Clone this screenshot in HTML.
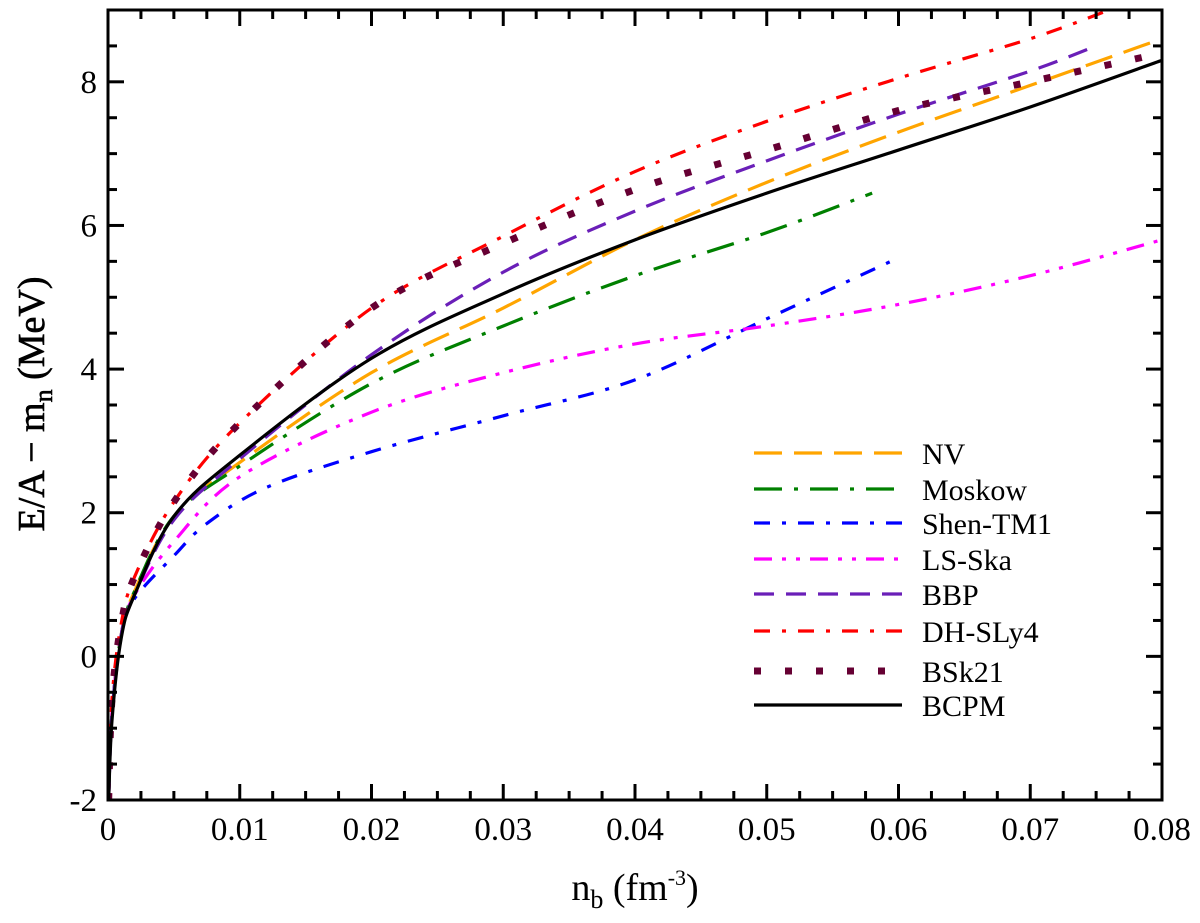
<!DOCTYPE html>
<html><head><meta charset="utf-8"><style>
html,body{margin:0;padding:0;background:#fff;}
svg{display:block;font-family:"Liberation Serif",serif;}
</style></head><body>
<svg id="chart" width="1200" height="923" viewBox="0 0 1200 923" xmlns="http://www.w3.org/2000/svg">
<g id="marks"></g>
<g id="axes"></g>
<g id="legend"></g>
<text x="635" y="900" font-size="38" text-anchor="middle">n<tspan font-size="26" dy="8">b</tspan><tspan dy="-8"> (fm</tspan><tspan font-size="22" dy="-15">-3</tspan><tspan dy="15">)</tspan></text>
<text transform="translate(44,404) rotate(-90)" font-size="38" text-anchor="middle" stroke="#000" stroke-width="0.6">E/A − m<tspan font-size="26" dy="8">n</tspan><tspan dy="-8">  (MeV)</tspan></text>
</svg>
<script>
const xTicks=[0,0.01,0.02,0.03,0.04,0.05,0.06,0.07,0.08];
const xTickLabels=["0","0.01","0.02","0.03","0.04","0.05","0.06","0.07","0.08"];
const yTicks=[-2,0,2,4,6,8];
const yTickLabels=["-2","0","2","4","6","8"];
const seriesNames=["NV","Moskow","Shen-TM1","LS-Ska","BBP","DH-SLy4","BSk21","BCPM"];
const nvX=[0.00005,0.0003,0.001,0.002,0.005,0.01,0.02,0.03,0.04,0.05,0.06,0.07,0.08];
const nvY=[-2,-0.8,0.3,0.9,1.95,2.7,3.95,4.85,5.8,6.6,7.3,7.95,8.6];
const moskowX=[0.00005,0.0003,0.001,0.002,0.005,0.01,0.02,0.03,0.04,0.05,0.058];
const moskowY=[-2,-0.8,0.3,0.9,1.95,2.65,3.8,4.6,5.3,5.9,6.45];
const shenX=[0.00005,0.0003,0.001,0.002,0.005,0.0075,0.012,0.02,0.03,0.04,0.05,0.06];
const shenY=[-2,-0.8,0.3,0.8,1.4,1.85,2.35,2.85,3.35,3.85,4.7,5.55];
const lsX=[0.00005,0.0003,0.001,0.002,0.005,0.01,0.02,0.03,0.04,0.05,0.06,0.07,0.08];
const lsY=[-2,-0.8,0.3,0.85,1.6,2.5,3.4,3.95,4.35,4.6,4.9,5.3,5.8];
const bbpX=[0.00005,0.0003,0.001,0.002,0.005,0.01,0.02,0.03,0.04,0.05,0.06,0.07,0.075];
const bbpY=[-2,-0.8,0.3,0.85,1.9,2.75,4.2,5.35,6.2,6.9,7.55,8.15,8.5];
const slyX=[0.00005,0.0003,0.001,0.002,0.005,0.01,0.02,0.03,0.04,0.05,0.06,0.07,0.076];
const slyY=[-2,-0.6,0.45,1.1,2.15,3.25,4.85,5.85,6.75,7.45,8.05,8.6,9.0];
const bskX=[0.00005,0.0003,0.001,0.002,0.005,0.01,0.02,0.03,0.04,0.05,0.06,0.07,0.08];
const bskY=[-2,-0.6,0.45,1.1,2.15,3.25,4.85,5.75,6.5,7.05,7.6,8.0,8.4];
const bcpmX=[0.00005,0.0003,0.001,0.002,0.005,0.01,0.02,0.03,0.04,0.05,0.06,0.07,0.08];
const bcpmY=[-2,-0.9,0.25,0.85,1.95,2.8,4.15,5.05,5.8,6.45,7.05,7.65,8.3];

const X0=108,X1=1162,Y0=800,Y1=10;
const sx=v=>X0+(v-0)/(0.08)*(X1-X0);
const sy=v=>Y0-(v+2)/11*(Y0-Y1);
const NS="http://www.w3.org/2000/svg";
function mk(tag,attrs,parent){const e=document.createElementNS(NS,tag);for(const k in attrs)e.setAttribute(k,attrs[k]);parent.appendChild(e);return e;}
const marks=document.getElementById('marks'),axes=document.getElementById('axes'),legend=document.getElementById('legend');
const clip=mk('clipPath',{id:'pc'},document.getElementById('chart'));
mk('rect',{x:X0,y:Y1,width:X1-X0,height:Y0-Y1},clip);
marks.setAttribute('clip-path','url(#pc)');

const styles=[
 {c:'#FFA500',d:'28 12',lc:'butt'},
 {c:'#008000',d:'28 12 4 12',lc:'butt'},
 {c:'#0000FF',d:'16 12 4 12',lc:'butt'},
 {c:'#FF00FF',d:'18 10 4 10 4 10',lc:'butt'},
 {c:'#6A1FB8',d:'20 12',lc:'butt'},
 {c:'#FF0000',d:'16 12 4 12',lc:'butt'},
 {c:'#660033',d:'7 24',lc:'butt',w:7},
 {c:'#000000',d:'',lc:'round'}
];
const dataX=[nvX,moskowX,shenX,lsX,bbpX,slyX,bskX,bcpmX];
const dataY=[nvY,moskowY,shenY,lsY,bbpY,slyY,bskY,bcpmY];
const slugs=['nv','moskow','shen-tm1','ls-ska','bbp','dh-sly4','bsk21','bcpm'];
function pathFor(xs,ys){
  const p=xs.map((x,i)=>[sx(x),sy(ys[i])]);
  let d=`M${p[0][0]},${p[0][1]}`;
  for(let i=0;i<p.length-1;i++){
    const p0=p[Math.max(0,i-1)],p1=p[i],p2=p[i+1],p3=p[Math.min(p.length-1,i+2)];
    const c1=[p1[0]+(p2[0]-p0[0])/6,p1[1]+(p2[1]-p0[1])/6];
    const c2=[p2[0]-(p3[0]-p1[0])/6,p2[1]-(p3[1]-p1[1])/6];
    d+=` C${c1[0]},${c1[1]} ${c2[0]},${c2[1]} ${p2[0]},${p2[1]}`;
  }
  return d;
}
for(let i=0;i<8;i++){
  const s=styles[i];
  const el=mk('path',{d:pathFor(dataX[i],dataY[i]),fill:'none',stroke:s.c,'stroke-width':s.w||3.2,'stroke-dasharray':s.d,'stroke-linecap':s.lc},marks);
  
  
}
const fr=mk('rect',{x:X0,y:Y1,width:X1-X0,height:Y0-Y1,fill:'none',stroke:'#000','stroke-width':3},axes);


for(let k=0;k<=32;k++){
  const v=k*0.0025,x=sx(v),L=(k%4===0)?16:9;
  mk('line',{x1:x,y1:Y0,x2:x,y2:Y0-L,stroke:'#000','stroke-width':3},axes);
  mk('line',{x1:x,y1:Y1,x2:x,y2:Y1+L,stroke:'#000','stroke-width':3},axes);
}
xTicks.forEach((v,i)=>{
  const t=mk('text',{x:sx(v),y:840,'font-size':33,'text-anchor':'middle'},axes);
  t.textContent=xTickLabels[i];
  
  
});
for(let k=0;k<=22;k++){
  const v=-2+k*0.5,y=sy(v),L=(k%4===0)?16:9;
  mk('line',{x1:X0,y1:y,x2:X0+L,y2:y,stroke:'#000','stroke-width':3},axes);
  mk('line',{x1:X1,y1:y,x2:X1-L,y2:y,stroke:'#000','stroke-width':3},axes);
}
yTicks.forEach((v,i)=>{
  const t=mk('text',{x:97,y:sy(v)+11,'font-size':33,'text-anchor':'end'},axes);
  t.textContent=yTickLabels[i];
  
  
});
const ly=[453,489,523,559,594,631,671,705];
seriesNames.forEach((n,i)=>{
  const s=styles[i];
  const g=mk('g',{},legend);
  
  
  mk('line',{x1:754,y1:ly[i],x2:902,y2:ly[i],stroke:s.c,'stroke-width':s.w||3.2,'stroke-dasharray':s.d},g);
  const t=mk('text',{x:922,y:ly[i]+11,'font-size':30},g);
  t.textContent=n;
});
</script>
</body></html>
